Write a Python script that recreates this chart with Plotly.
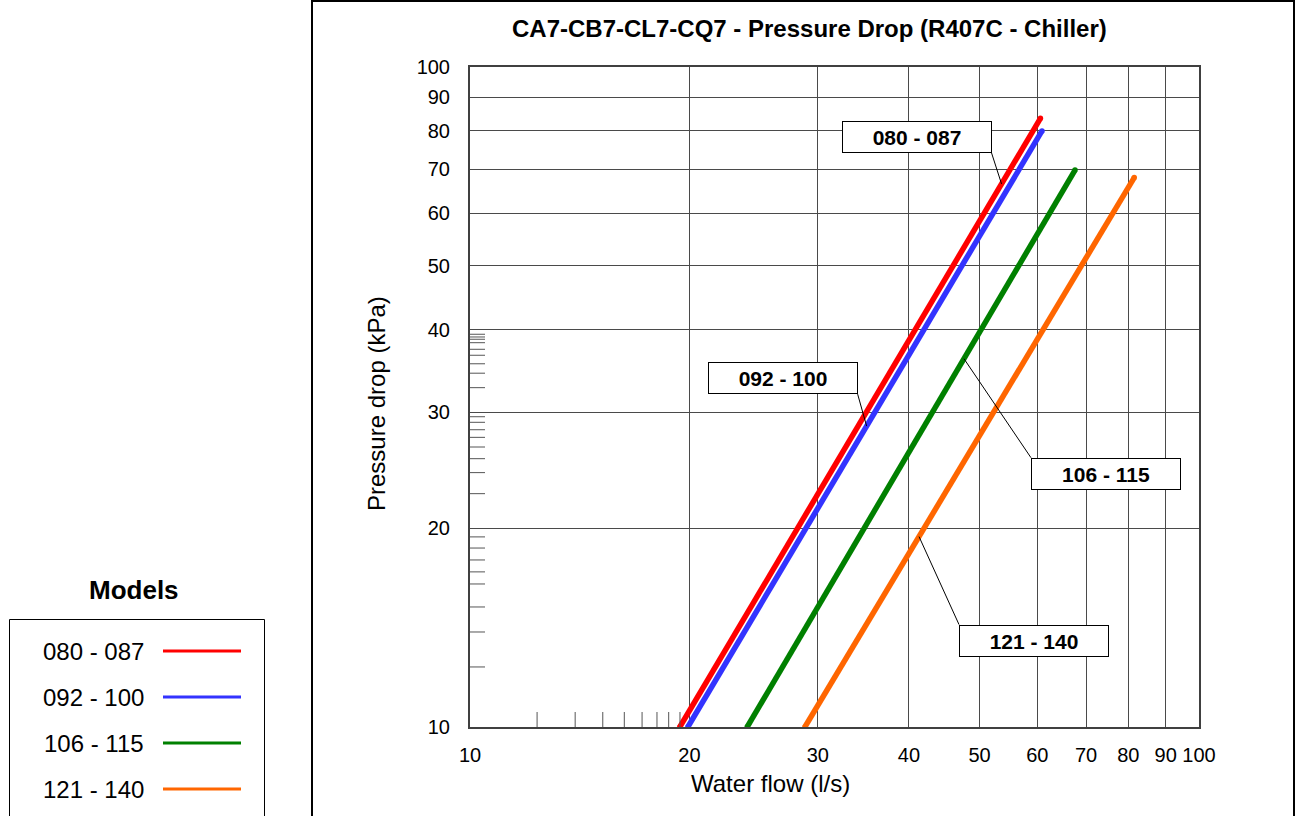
import numpy as np
import plotly.graph_objects as go

# ---------------- data ----------------
models = ["080 - 087", "092 - 100", "106 - 115", "121 - 140"]
colors = ["#FF0000", "#3333FF", "#008000", "#FF6600"]

flow_080 = [19.4, 60.6]
dp_080 = [10.0, 83.6]
flow_092 = [19.9, 60.9]
dp_092 = [10.0, 80.0]
flow_106 = [24.0, 67.6]
dp_106 = [10.0, 69.8]
flow_121 = [28.8, 81.5]
dp_121 = [10.0, 68.0]

flows = [flow_080, flow_092, flow_106, flow_121]
dps = [dp_080, dp_092, dp_106, dp_121]

tick_vals = [10, 20, 30, 40, 50, 60, 70, 80, 90, 100]
tick_text = ["10", "20", "30", "40", "50", "60", "70", "80", "90", "100"]

# odd minor ticks drawn by the original chart
x_minor = [12.36, 13.94, 15.21, 16.28, 17.22, 18.05, 18.73, 19.41]
y_minor = [12.33, 13.93, 15.2, 16.47, 17.18, 17.91, 18.67, 19.41,
           22.57, 24.29, 25.5, 26.56, 27.47, 28.21, 28.95, 29.52,
           32.67, 34.36, 35.51, 36.58, 37.35, 38.22, 38.68, 38.99, 39.36]

# callout labels: series index and flow where the leader line touches
label_series = [0, 1, 2, 3]
label_flow = [53.6, 35.0, 47.6, 41.3]

title = "CA7-CB7-CL7-CQ7 - Pressure Drop (R407C - Chiller)"
x_title = "Water flow (l/s)"
y_title = "Pressure drop (kPa)"
legend_title = "Models"

# ---------------- layout geometry ----------------
W, H = 1298, 816
L, R, T, B = 470, 1199, 67, 727
FONT = "Liberation Sans, Arial, sans-serif"


def px(xp):
    return (xp - L) / (R - L)


def py(yp):
    return (B - yp) / (B - T)


fig = go.Figure()

for name, col, fx, dy in zip(models, colors, flows, dps):
    fig.add_trace(go.Scatter(
        x=fx, y=dy, mode="lines+markers", name=name,
        line=dict(color=col, width=5.5),
        marker=dict(color=col, size=5.5, line=dict(width=0)),
        showlegend=False, hoverinfo="x+y+name"))

shapes = []
# outer chart border
shapes.append(dict(type="rect", xref="paper", yref="paper",
                   x0=px(312), x1=px(1294), y0=py(830), y1=py(1),
                   line=dict(color="#000000", width=2), layer="below"))
# minor ticks
for v in x_minor:
    shapes.append(dict(type="line", xref="x", yref="y domain",
                       x0=v, x1=v, y0=0, y1=15 / (B - T),
                       line=dict(color="#555555", width=1)))
for v in y_minor:
    shapes.append(dict(type="line", xref="x domain", yref="y",
                       x0=0, x1=15 / (R - L), y0=v, y1=v,
                       line=dict(color="#555555", width=1)))
# legend box
shapes.append(dict(type="rect", xref="paper", yref="paper",
                   x0=px(9.5), x1=px(264.5), y0=py(830), y1=py(619.5),
                   line=dict(color="#000000", width=1)))

annotations = []
annotations.append(dict(text="<b>" + title + "</b>", xref="paper", yref="paper",
                        x=px(809), y=py(28), showarrow=False,
                        font=dict(size=24, color="black", family=FONT),
                        xanchor="center", yanchor="middle"))
annotations.append(dict(text=x_title, xref="paper", yref="paper",
                        x=px(770), y=py(783), showarrow=False,
                        font=dict(size=24, color="black", family=FONT),
                        xanchor="center", yanchor="middle"))
annotations.append(dict(text=y_title, xref="paper", yref="paper",
                        x=px(376), y=py(404), showarrow=False, textangle=-90,
                        font=dict(size=24, color="black", family=FONT),
                        xanchor="center", yanchor="middle"))
# legend
annotations.append(dict(text="<b>" + legend_title + "</b>", xref="paper", yref="paper",
                        x=px(134), y=py(590), showarrow=False,
                        font=dict(size=26, color="black", family=FONT),
                        xanchor="center", yanchor="middle"))
leg_y = [651, 697, 743, 789]
for name, col, yy in zip(models, colors, leg_y):
    annotations.append(dict(text=name, xref="paper", yref="paper",
                            x=px(146), y=py(yy), showarrow=False,
                            font=dict(size=24, color="black", family=FONT),
                            xanchor="right", yanchor="middle"))
    shapes.append(dict(type="line", xref="paper", yref="paper",
                       x0=px(163), x1=px(241), y0=py(yy), y1=py(yy),
                       line=dict(color=col, width=3)))

# callouts (box corner offsets in pixels from the touched point)
call_ax = [-10, -9, 67, 40]
call_ay = [-31, -32, 99, 88]
call_xanchor = ["right", "right", "left", "left"]
call_yanchor = ["bottom", "bottom", "top", "top"]
for i, s in enumerate(label_series):
    fx = np.log10(flows[s])
    fy = np.log10(dps[s])
    lx = np.log10(label_flow[i])
    ly = np.interp(lx, fx, fy)
    annotations.append(dict(
        text="<b>" + models[s] + "</b>", x=lx, y=ly, xref="x", yref="y",
        showarrow=True, arrowhead=0, arrowwidth=1, arrowcolor="black",
        ax=call_ax[i], ay=call_ay[i], axref="pixel", ayref="pixel",
        xanchor=call_xanchor[i], yanchor=call_yanchor[i],
        width=146, height=28, borderpad=1, borderwidth=1, bordercolor="black",
        bgcolor="white", font=dict(size=21, color="black", family=FONT)))

axis_common = dict(type="log", range=[1, 2], tickvals=tick_vals, ticktext=tick_text,
                   showgrid=True, gridcolor="#4a4a4a", gridwidth=1,
                   showline=True, mirror=True, linecolor="#404040", linewidth=2,
                   ticks="", zeroline=False, fixedrange=True)

fig.update_layout(
    width=W, height=H, autosize=False,
    margin=dict(l=L, r=W - R, t=T, b=H - B, pad=0),
    paper_bgcolor="white", plot_bgcolor="white",
    font=dict(family=FONT, color="black"),
    xaxis=dict(**axis_common, ticklabelstandoff=9,
               tickfont=dict(size=20, color="black", family=FONT)),
    yaxis=dict(**axis_common, ticklabelstandoff=14,
               tickfont=dict(size=20, color="black", family=FONT)),
    shapes=shapes, annotations=annotations, showlegend=False)

fig.write_html("out.html")
